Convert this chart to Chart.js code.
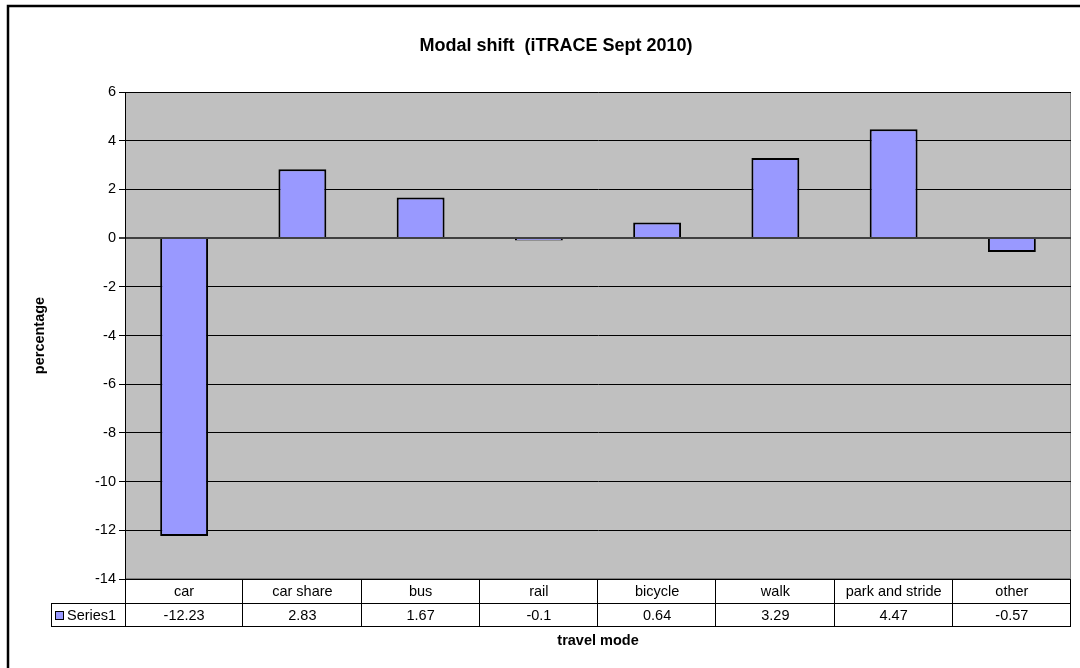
<!DOCTYPE html>
<html>
<head>
<meta charset="utf-8">
<script src="https://cdn.jsdelivr.net/npm/chart.js@4/dist/chart.umd.min.js"></script>
<style>
  body { margin: 0; background: #fff; }
  canvas { display: block; }
</style>
</head>
<body>
<canvas id="modalChart" width="1080" height="668"></canvas>
<script>
// data
const modes = ['car', 'car share', 'bus', 'rail', 'bicycle', 'walk', 'park and stride', 'other'];
const shift = [-12.23, 2.83, 1.67, -0.1, 0.64, 3.29, 4.47, -0.57];
const seriesName = 'Series1';
const chartTitle = 'Modal shift  (iTRACE Sept 2010)';
const yMin = -14, yMax = 6, yStep = 2;

const FONT = '"Liberation Sans", Arial, sans-serif';
const BAR = '#9999FF';

// frame, title and grey plot background
const backdrop = {
  id: 'backdrop',
  beforeDraw(chart) {
    const { ctx, chartArea: a } = chart;
    ctx.save();
    ctx.fillStyle = '#fff';
    ctx.fillRect(0, 0, chart.width, chart.height);
    ctx.strokeStyle = '#000';
    ctx.lineWidth = 2.5;
    ctx.strokeRect(8, 6, 1100, 700);
    ctx.fillStyle = '#C0C0C0';
    ctx.fillRect(a.left, a.top, a.right - a.left, a.bottom - a.top);
    ctx.strokeStyle = '#808080';
    ctx.lineWidth = 1;
    ctx.strokeRect(a.left + 0.5, a.top + 0.5, a.right - a.left - 1, a.bottom - a.top - 1);

    ctx.fillStyle = '#000';
    ctx.font = 'bold 18px ' + FONT;
    ctx.textAlign = 'center';
    ctx.textBaseline = 'middle';
    ctx.fillText(chartTitle, 556, 46);
    ctx.restore();
  }
};

// Excel style data table under the plot
const dataTable = {
  id: 'dataTable',
  afterDraw(chart) {
    const { ctx, chartArea: a } = chart;
    const x = chart.scales.x;
    const half = (x.getPixelForValue(1) - x.getPixelForValue(0)) / 2;
    const r0 = a.bottom, r1 = a.bottom + 24, r2 = a.bottom + 47;
    const keyLeft = 51;
    ctx.save();
    ctx.strokeStyle = '#000';
    ctx.lineWidth = 1;
    ctx.beginPath();
    ctx.moveTo(a.left, r0 + 0.5); ctx.lineTo(a.right, r0 + 0.5);
    ctx.moveTo(keyLeft, r1 + 0.5); ctx.lineTo(a.right, r1 + 0.5);
    ctx.moveTo(keyLeft, r2 + 0.5); ctx.lineTo(a.right, r2 + 0.5);
    ctx.moveTo(keyLeft + 0.5, r1); ctx.lineTo(keyLeft + 0.5, r2);
    ctx.moveTo(a.left + 0.5, r0); ctx.lineTo(a.left + 0.5, r2);
    modes.forEach((m, i) => {
      const xr = Math.round(x.getPixelForValue(i) + half) - 0.5;
      ctx.moveTo(xr, r0); ctx.lineTo(xr, r2);
    });
    ctx.stroke();

    ctx.fillStyle = '#000';
    ctx.font = '14.5px ' + FONT;
    ctx.textAlign = 'center';
    ctx.textBaseline = 'middle';
    modes.forEach((m, i) => {
      const cx = x.getPixelForValue(i);
      ctx.fillText(m, cx, (r0 + r1) / 2 + 1);
      ctx.fillText(String(shift[i]), cx, (r1 + r2) / 2 + 1);
    });

    // legend key
    ctx.fillStyle = BAR;
    ctx.fillRect(55.5, r1 + 8.5, 8, 8);
    ctx.strokeRect(55.5, r1 + 8.5, 8, 8);
    ctx.fillStyle = '#000';
    ctx.textAlign = 'left';
    ctx.fillText(seriesName, 67, (r1 + r2) / 2 + 1);

    // axis title
    ctx.font = 'bold 14.5px ' + FONT;
    ctx.textAlign = 'center';
    ctx.fillText('travel mode', (a.left + a.right) / 2, r2 + 15);
    ctx.restore();
  }
};

new Chart(document.getElementById('modalChart'), {
  type: 'bar',
  data: {
    labels: modes,
    datasets: [{
      label: seriesName,
      data: shift,
      backgroundColor: BAR,
      borderColor: '#000',
      borderWidth: 2,
      barPercentage: 0.405,
      categoryPercentage: 1
    }]
  },
  options: {
    responsive: false,
    animation: false,
    devicePixelRatio: 1,
    layout: { padding: { left: 25, right: 9, top: 92, bottom: 89 } },
    plugins: {
      legend: { display: false },
      tooltip: { enabled: false },
      title: { display: false }
    },
    scales: {
      x: { display: false },
      y: {
        min: yMin,
        max: yMax,
        afterFit(s) { s.width = 100; },
        ticks: { stepSize: yStep, color: '#000', padding: 3, font: { family: FONT, size: 14.5 } },
        grid: {
          color: c => c.tick && c.tick.value === 0 ? '#404040' : '#000',
          lineWidth: c => c.tick && c.tick.value === 0 ? 2 : 1,
          tickLength: 6
        },
        border: { color: '#000', width: 1 },
        title: {
          display: true,
          text: 'percentage',
          color: '#000',
          font: { family: FONT, size: 14.5, weight: 'bold' },
          padding: { top: 6, bottom: 0 }
        }
      }
    }
  },
  plugins: [backdrop, dataTable]
});
</script>
</body>
</html>
